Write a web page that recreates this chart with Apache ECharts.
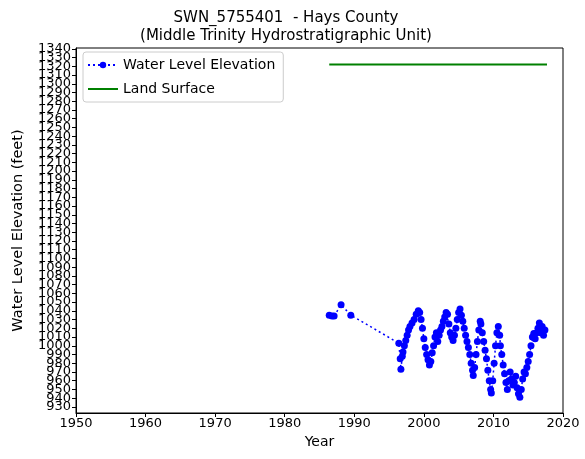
<!DOCTYPE html>
<html><head><meta charset="utf-8">
<script src="https://cdn.jsdelivr.net/npm/echarts@6/dist/echarts.min.js"></script>
<style>html,body{margin:0;padding:0;background:#fff}#c{width:585px;height:459px}</style>
</head><body><div id="c"></div>
<script>
const titleLines = ["SWN_5755401  - Hays County", "(Middle Trinity Hydrostratigraphic Unit)"];
const xTicks = [1950, 1960, 1970, 1980, 1990, 2000, 2010, 2020];
const yTicks = [930,940,950,960,970,980,990,1000,1010,1020,1030,1040,1050,1060,1070,1080,1090,1100,1110,1120,1130,1140,1150,1160,1170,1180,1190,1200,1210,1220,1230,1240,1250,1260,1270,1280,1290,1300,1310,1320,1330,1340];
const waterYears = [1986.4,1986.8,1987.1,1988.1,1989.5,1996.4,1996.6,1996.7,1996.9,1997.0,1997.2,1997.4,1997.6,1997.8,1998.0,1998.3,1998.6,1998.9,1999.2,1999.4,1999.6,1999.8,2000.0,2000.2,2000.4,2000.6,2000.8,2001.0,2001.2,2001.4,2001.6,2001.8,2002.0,2002.2,2002.4,2002.6,2002.8,2003.0,2003.2,2003.4,2003.6,2003.8,2004.0,2004.2,2004.4,2004.6,2004.8,2005.0,2005.2,2005.4,2005.6,2005.8,2006.0,2006.2,2006.4,2006.6,2006.8,2007.0,2007.1,2007.3,2007.5,2007.7,2007.9,2008.1,2008.2,2008.4,2008.6,2008.8,2009.0,2009.2,2009.4,2009.6,2009.7,2009.9,2010.1,2010.3,2010.5,2010.7,2010.9,2011.0,2011.2,2011.4,2011.6,2011.8,2012.0,2012.2,2012.4,2012.6,2012.8,2013.0,2013.2,2013.4,2013.6,2013.8,2014.0,2014.2,2014.4,2014.6,2014.8,2015.0,2015.2,2015.4,2015.6,2015.8,2016.0,2016.2,2016.4,2016.6,2016.8,2017.0,2017.2,2017.4];
const waterLevels = [1035,1034,1034,1047,1035,1003,985,973,988,993,1000,1006,1012,1018,1022,1026,1030,1036,1040,1038,1030,1020,1008,998,990,984,978,982,992,1000,1010,1015,1005,1012,1018,1022,1028,1033,1038,1036,1025,1015,1010,1006,1012,1020,1030,1038,1042,1035,1028,1020,1012,1005,998,990,980,972,966,975,990,1005,1018,1028,1025,1015,1005,995,985,972,960,950,946,960,980,1000,1015,1022,1012,1000,990,978,968,958,950,960,970,962,955,958,965,952,945,941,950,962,970,968,975,982,990,1000,1010,1014,1008,1015,1020,1026,1015,1022,1012,1018];
const landYears = [1986.4, 2017.7];
const landLevels = [1322, 1322];

const FONT = "DejaVu Sans";
const yLabelsA = yTicks.filter((v, i) => i % 2 === 0);
const yLabelsB = yTicks.filter((v, i) => i % 2 === 1);
const yLabelStyle = {fontFamily: FONT, fontSize: 13, color: '#000', margin: 5, hideOverlap: false, formatter: v => String(v)};
const chart = echarts.init(document.getElementById('c'), null, {renderer: 'canvas'});
chart.setOption({
  animation: false,
  textStyle: {fontFamily: FONT, color: '#000'},
  title: {
    text: titleLines.join('\n'),
    left: 281, top: 4, textAlign: 'center',
    textStyle: {fontFamily: FONT, fontSize: 15, fontWeight: 'normal', color: '#000', lineHeight: 18}
  },
  legend: {
    left: 83, top: 52, orient: 'vertical',
    itemWidth: 30, itemHeight: 8, itemGap: 10,
    padding: [6, 8, 6, 4],
    borderColor: '#ccc', borderWidth: 1, borderRadius: 3,
    backgroundColor: '#fff',
    textStyle: {fontFamily: FONT, fontSize: 14, color: '#000'},
    data: [
      {name: 'Water Level Elevation'},
      {name: 'Land Surface', itemStyle: {opacity: 0}}
    ]
  },
  grid: {left: 76, right: 22, top: 48, bottom: 46, show: true, borderColor: '#000', borderWidth: 1, backgroundColor: 'transparent'},
  xAxis: {
    type: 'value', min: 1950, max: 2020, interval: 10,
    name: 'Year', nameLocation: 'middle', nameGap: 20,
    nameTextStyle: {fontFamily: FONT, fontSize: 14, color: '#000'},
    axisLine: {show: true, onZero: false, lineStyle: {color: '#000', width: 1}},
    axisTick: {show: true, inside: false, length: 4, lineStyle: {color: '#000'}},
    axisLabel: {fontFamily: FONT, fontSize: 13, color: '#000', margin: 4, formatter: v => String(v)},
    splitLine: {show: false}
  },
  yAxis: [
    {
      type: 'value', min: 923, max: 1341, position: 'left',
      name: 'Water Level Elevation (feet)', nameLocation: 'middle', nameGap: 50,
      nameTextStyle: {fontFamily: FONT, fontSize: 14.5, color: '#000'},
      axisLine: {show: true, onZero: false, lineStyle: {color: '#000', width: 1}},
      axisTick: {show: true, inside: false, length: 4, lineStyle: {color: '#000'}, customValues: yTicks},
      axisLabel: Object.assign({customValues: yLabelsA, showMinLabel: true, showMaxLabel: true}, yLabelStyle),
      splitLine: {show: false}
    },
    {
      type: 'value', min: 923, max: 1341, position: 'left', offset: 0,
      axisLine: {show: false, onZero: false},
      axisTick: {show: false, customValues: yTicks},
      axisLabel: Object.assign({customValues: yLabelsB, showMinLabel: true, showMaxLabel: true}, yLabelStyle),
      splitLine: {show: false}
    }
  ],
  series: [
    {
      name: 'Water Level Elevation', type: 'line', yAxisIndex: 0,
      data: waterYears.map((y, i) => [y, waterLevels[i]]),
      symbol: 'circle', symbolSize: 7, showSymbol: true,
      itemStyle: {color: '#0000ff'},
      lineStyle: {color: '#0000ff', width: 1.5, type: [2, 3]}
    },
    {
      name: 'Land Surface', type: 'line', yAxisIndex: 0,
      data: landYears.map((y, i) => [y, landLevels[i]]),
      symbol: 'none', showSymbol: false,
      itemStyle: {color: '#008000'},
      lineStyle: {color: '#008000', width: 2}
    }
  ]
});
</script></body></html>
